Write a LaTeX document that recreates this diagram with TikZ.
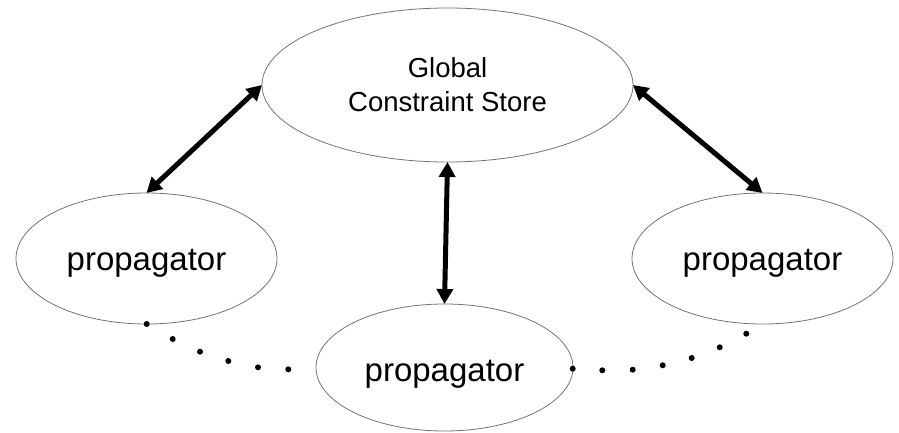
\documentclass[tikz,border=0pt]{standalone}
\usepackage{fontspec}
\setmainfont{Liberation Sans}
\usetikzlibrary{shapes.geometric,arrows.meta}
\begin{document}
\begin{tikzpicture}[x=1pt,y=-1pt,
  blob/.style={ellipse,draw=black!55,line width=0.8pt,inner sep=0pt,outer sep=0pt},
  propbox/.style={blob,minimum width=259pt,minimum height=131pt,font=\fontsize{33}{38}\selectfont,text height=23pt,text depth=0pt},
  link/.style={line width=5pt,{Triangle[length=15pt,width=16pt]}-{Triangle[length=15pt,width=16pt]}},
  dot/.style={circle,fill=black,inner sep=0pt,minimum size=6pt}]
\useasboundingbox (0,0) rectangle (899,433);
\node[blob,minimum width=371pt,minimum height=154pt,align=center,font=\fontsize{27.5}{34}\selectfont] (store) at (447.5,85) {Global\\Constraint Store};
\node[propbox,minimum width=261pt] (left) at (146.5,258.5) {propagator};
\node[propbox,minimum width=261pt] (right) at (762.5,258.5) {propagator};
\node[propbox,minimum width=257pt,minimum height=127pt,text height=28pt] (bottom) at (444.5,367.5) {propagator};
\draw[link] (store.west) -- (left.north);
\draw[link] (store.east) -- (right.north);
\draw[link] (store.south) -- (bottom.north);
\foreach \p in {(146.7,324),(172.7,339),(200,351.7),(228.3,361),(258,367.3),(288.3,369.3),
                (572.7,368.7),(602.3,370.3),(632.7,369.7),(662.7,365.3),(691.7,358),(719.7,347.3),(746.3,333.7)}
  \fill \p circle (3pt);
\end{tikzpicture}
\end{document}
